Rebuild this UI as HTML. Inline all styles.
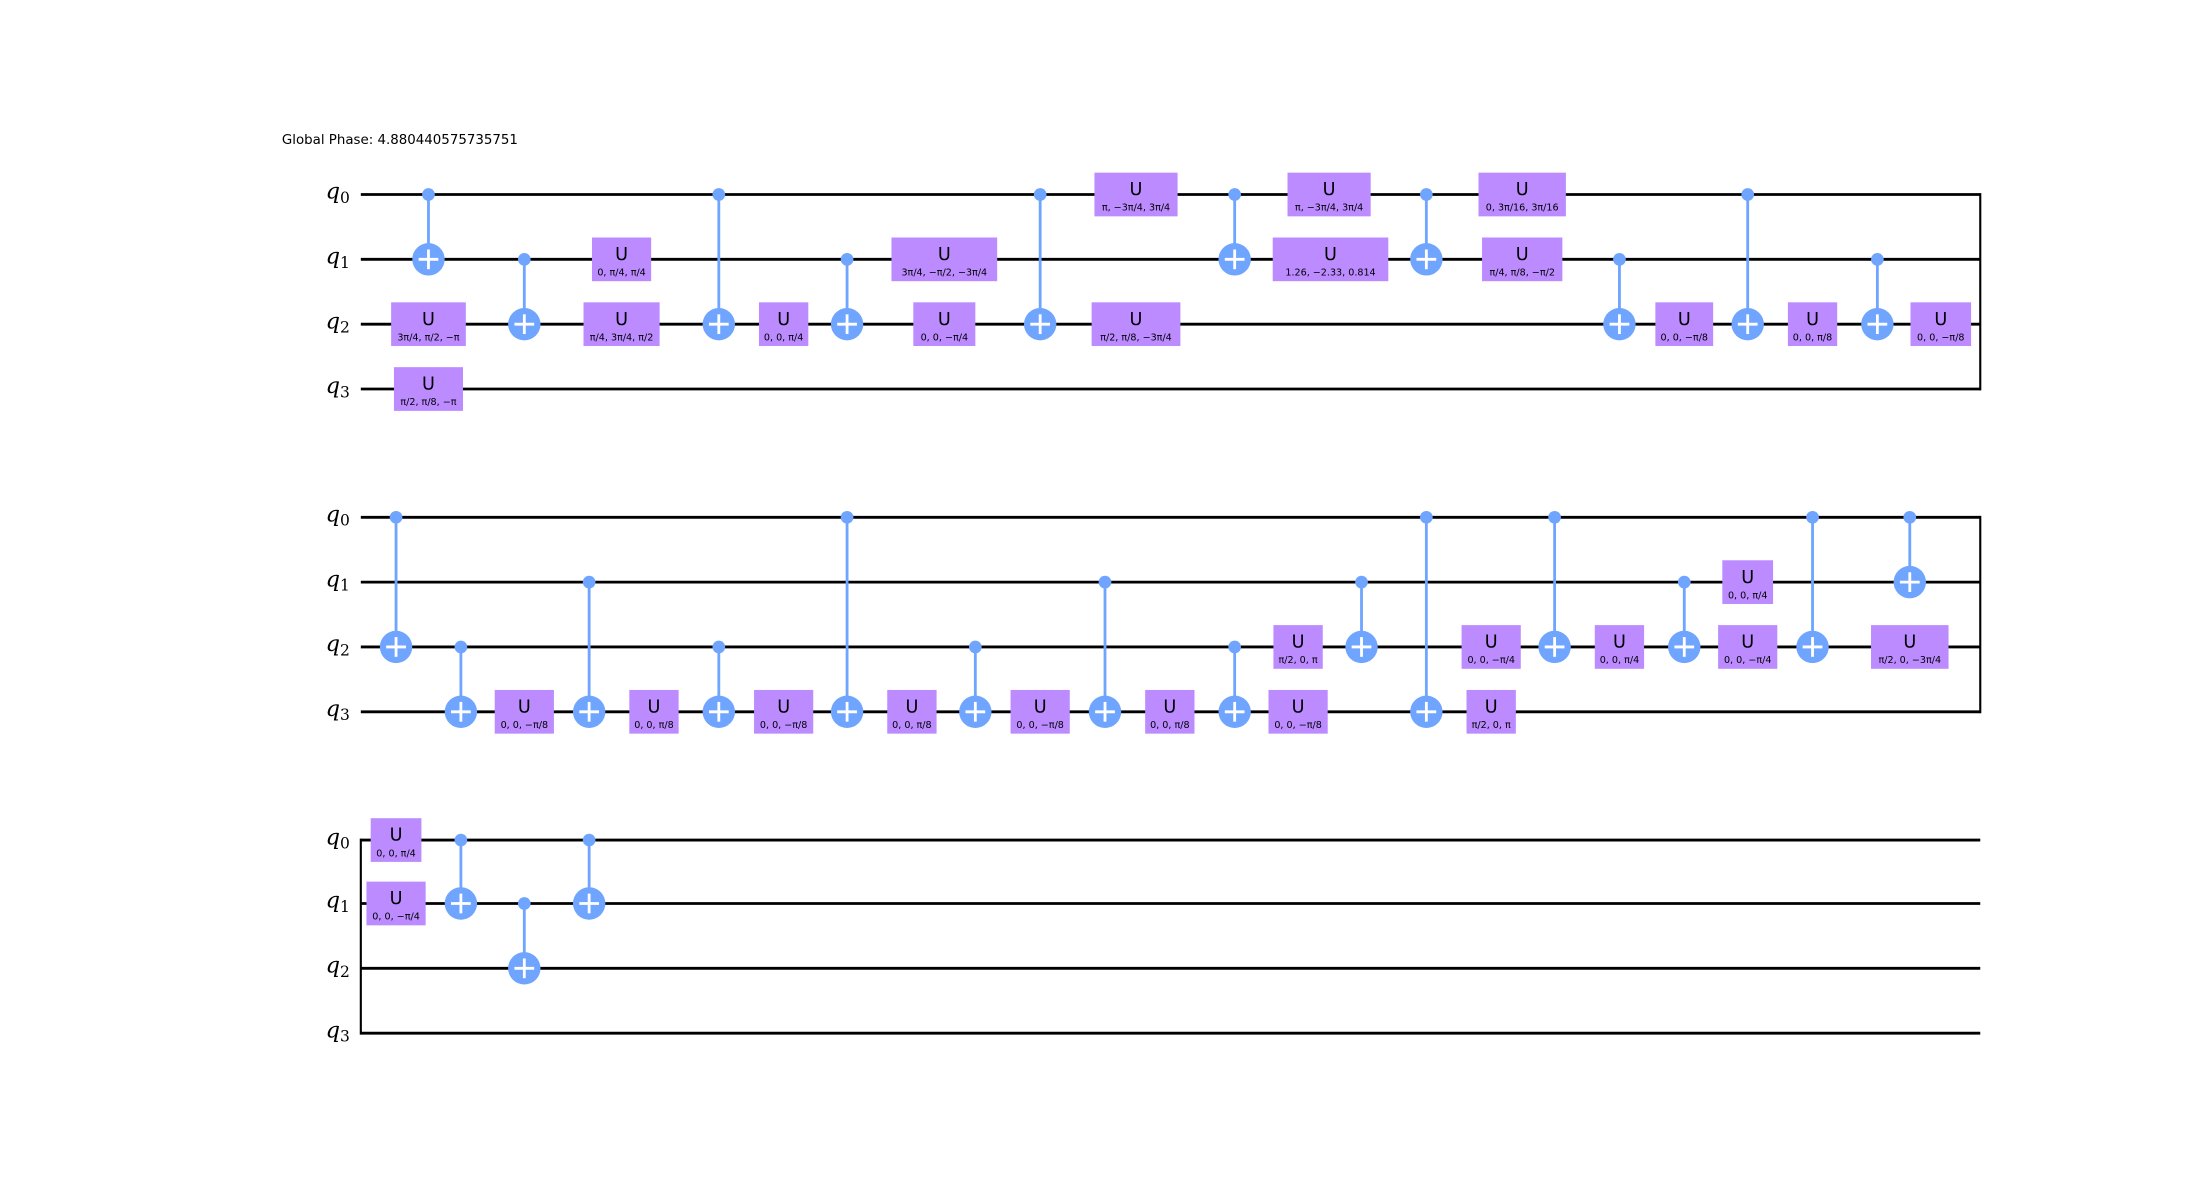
<!DOCTYPE html>
<html><head><meta charset="utf-8"><style>html,body{margin:0;padding:0;background:#fff;}svg{display:block}</style></head>
<body>
<svg width="2210" height="1203" viewBox="0 0 1568 853.5" preserveAspectRatio="none" xmlns="http://www.w3.org/2000/svg" font-family="'DejaVu Sans','Liberation Sans',sans-serif">
<rect width="1568" height="853.5" fill="#fff"/>
<text x="200" y="102" font-size="9.5" fill="#000">Global Phase: 4.880440575735751</text>
<g id="c"></g>
</svg>
<script>
const svg=document.querySelector('#c');
const NS='http://www.w3.org/2000/svg';
function el(t,a,txt){const e=document.createElementNS(NS,t);for(const k in a)e.setAttribute(k,a[k]);if(txt!==undefined)e.textContent=txt;svg.appendChild(e);return e;}
const blocks=[[138,184,230,276],[367,413,459,505],[596,641,687,733]];
const BLUE='#6fa4ff',PURP='#bb8bff';
blocks.forEach((ys,bi)=>{
  ys.forEach((y,i)=>{
    el('line',{x1:256,y1:y,x2:1405,y2:y,stroke:'#000','stroke-width':2});
    const t=el('text',{x:231,y:y+3,'font-size':16,'font-style':'italic','font-family':"'DejaVu Serif','Liberation Serif',serif"},'q');
    const s=document.createElementNS(NS,'tspan');s.setAttribute('font-size','11');s.setAttribute('dy','3');s.setAttribute('font-style','normal');s.textContent=i;t.appendChild(s);
  });
  if(bi<2) el('line',{x1:1405,y1:ys[0]-1,x2:1405,y2:ys[3]+1,stroke:'#000','stroke-width':1.5});
  else el('line',{x1:256,y1:ys[0]-1,x2:256,y2:ys[3]+1,stroke:'#000','stroke-width':1.5});
});
function cx(b,c,t,x){const ys=blocks[b];const yc=ys[c],yt=ys[t];
  el('line',{x1:x,y1:yc,x2:x,y2:yt,stroke:BLUE,'stroke-width':2});
  el('circle',{cx:x,cy:yc,r:4.5,fill:BLUE});
  el('circle',{cx:x,cy:yt,r:11.5,fill:BLUE});
  el('line',{x1:x-7,y1:yt,x2:x+7,y2:yt,stroke:'#fff','stroke-width':2});
  el('line',{x1:x,y1:yt-7,x2:x,y2:yt+7,stroke:'#fff','stroke-width':2});
}
function u(b,q,x,w,p){const y=blocks[b][q];
  el('rect',{x:x-w/2,y:y-15.5,width:w,height:31,fill:PURP});
  el('text',{x:x,y:y+0.5,'font-size':12.5,'text-anchor':'middle'},'U');
  el('text',{x:x,y:y+11.5,'font-size':6.8,'text-anchor':'middle'},p);
}
// block 1
cx(0,0,1,304);u(0,2,304,53,'3π/4, π/2, −π');u(0,3,304,49,'π/2, π/8, −π');
cx(0,1,2,372);u(0,1,441,42,'0, π/4, π/4');u(0,2,441,54,'π/4, 3π/4, π/2');
cx(0,0,2,510);u(0,2,556,35,'0, 0, π/4');
cx(0,1,2,601);u(0,1,670,75,'3π/4, −π/2, −3π/4');u(0,2,670,44,'0, 0, −π/4');
cx(0,0,2,738);u(0,0,806,59,'π, −3π/4, 3π/4');u(0,2,806,63,'π/2, π/8, −3π/4');
cx(0,0,1,876);u(0,0,943,59,'π, −3π/4, 3π/4');u(0,1,944,82,'1.26, −2.33, 0.814');
cx(0,0,1,1012);u(0,0,1080,62,'0, 3π/16, 3π/16');u(0,1,1080,57,'π/4, π/8, −π/2');
cx(0,1,2,1149);u(0,2,1195,41,'0, 0, −π/8');
cx(0,0,2,1240);u(0,2,1286,35,'0, 0, π/8');
cx(0,1,2,1332);u(0,2,1377,43,'0, 0, −π/8');
// block 2
cx(1,0,2,281);cx(1,2,3,327);u(1,3,372,42,'0, 0, −π/8');
cx(1,1,3,418);u(1,3,464,35,'0, 0, π/8');
cx(1,2,3,510);u(1,3,556,42,'0, 0, −π/8');
cx(1,0,3,601);u(1,3,647,35,'0, 0, π/8');
cx(1,2,3,692);u(1,3,738,42,'0, 0, −π/8');
cx(1,1,3,784);u(1,3,830,35,'0, 0, π/8');
cx(1,2,3,876);u(1,2,921,35,'π/2, 0, π');u(1,3,921,42,'0, 0, −π/8');
cx(1,1,2,966);cx(1,0,3,1012);u(1,2,1058,42,'0, 0, −π/4');u(1,3,1058,35,'π/2, 0, π');
cx(1,0,2,1103);u(1,2,1149,35,'0, 0, π/4');
cx(1,1,2,1195);u(1,1,1240,36,'0, 0, π/4');u(1,2,1240,42,'0, 0, −π/4');
cx(1,0,2,1286);cx(1,0,1,1355);u(1,2,1355,55,'π/2, 0, −3π/4');
// block 3
u(2,0,281,36,'0, 0, π/4');u(2,1,281,42,'0, 0, −π/4');
cx(2,0,1,327);cx(2,1,2,372);cx(2,0,1,418);
</script>
</body></html>
